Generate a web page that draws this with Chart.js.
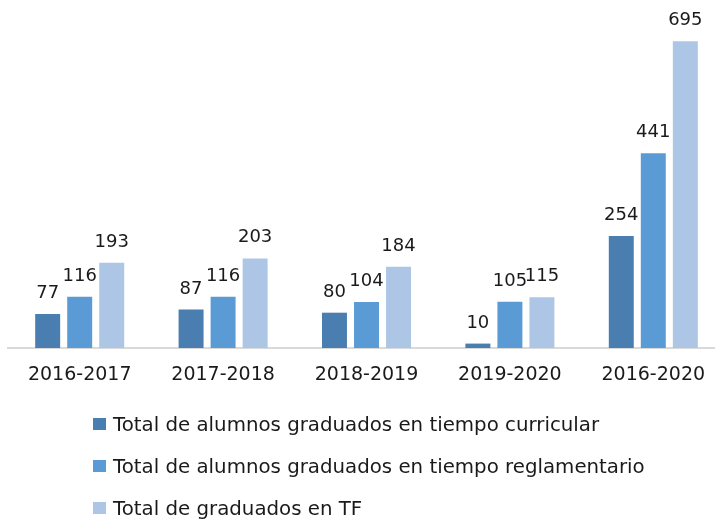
<!DOCTYPE html>
<html>
<head>
<meta charset="utf-8">
<script src="https://cdn.jsdelivr.net/npm/chart.js@4/dist/chart.umd.min.js"></script>
<style>
  html, body { margin: 0; padding: 0; background: #fff; }
  #wrap { position: relative; width: 715px; height: 521px; overflow: hidden; }
  #chart { position: absolute; left: 0; top: 0; }
  #legend { position: absolute; left: 93px; top: 403px; font-family: "DejaVu Sans", sans-serif; font-size: 19.8px; color: #1a1a1a; }
  .leg-row { display: flex; align-items: center; height: 42px; white-space: nowrap; }
  .leg-box { width: 13px; height: 12px; margin-right: 7px; }
</style>
</head>
<body>
<div id="wrap">
  <canvas id="chart" width="725" height="521"></canvas>
  <div id="legend"></div>
</div>
<script>
// datos
const years = ['2016-2017', '2017-2018', '2018-2019', '2019-2020', '2016-2020'];
const curricular = [77, 87, 80, 10, 254];
const reglamentario = [116, 116, 104, 105, 441];
const totalTF = [193, 203, 184, 115, 695];

const seriesNames = [
  'Total de alumnos graduados en tiempo curricular',
  'Total de alumnos graduados en tiempo reglamentario',
  'Total de graduados en TF'
];
const colors = ['#4A7EB0', '#5B9BD5', '#ADC6E6'];

// plugin simple para poner el valor encima de cada barra
const valueLabels = {
  id: 'valueLabels',
  afterDatasetsDraw(chart) {
    const ctx = chart.ctx;
    ctx.save();
    ctx.font = '18px "DejaVu Sans", sans-serif';
    ctx.fillStyle = '#1a1a1a';
    ctx.textAlign = 'center';
    ctx.textBaseline = 'alphabetic';
    chart.data.datasets.forEach((ds, i) => {
      chart.getDatasetMeta(i).data.forEach((bar, j) => {
        ctx.fillText(ds.data[j], bar.x, bar.y - 16);
      });
    });
    ctx.restore();
  }
};

const ctx = document.getElementById('chart').getContext('2d');
const myChart = new Chart(ctx, {
  type: 'bar',
  data: {
    labels: years,
    datasets: [
      { label: seriesNames[0], data: curricular, backgroundColor: colors[0] },
      { label: seriesNames[1], data: reglamentario, backgroundColor: colors[1] },
      { label: seriesNames[2], data: totalTF, backgroundColor: colors[2] }
    ]
  },
  options: {
    responsive: false,
    animation: false,
    devicePixelRatio: 1,
    datasets: {
      bar: { categoryPercentage: 0.67, barPercentage: 0.78 }
    },
    layout: { padding: { left: 8, top: 17, right: 0, bottom: 0 } },
    plugins: {
      legend: { display: false },
      tooltip: { enabled: false }
    },
    scales: {
      x: {
        grid: { display: false, drawTicks: false },
        border: { display: true, color: '#D9D9D9', width: 2 },
        ticks: {
          color: '#1a1a1a',
          padding: 16,
          font: { family: '"DejaVu Sans", sans-serif', size: 19 }
        },
        afterFit(scale) { scale.height = 173; }
      },
      y: {
        display: false,
        min: 0,
        max: 750
      }
    }
  },
  plugins: [valueLabels]
});

// leyenda en html, una fila por serie
const legendEl = document.getElementById('legend');
myChart.data.datasets.forEach(ds => {
  const row = document.createElement('div');
  row.className = 'leg-row';
  const box = document.createElement('span');
  box.className = 'leg-box';
  box.style.background = ds.backgroundColor;
  const txt = document.createElement('span');
  txt.textContent = ds.label;
  row.appendChild(box);
  row.appendChild(txt);
  legendEl.appendChild(row);
});
</script>
</body>
</html>
